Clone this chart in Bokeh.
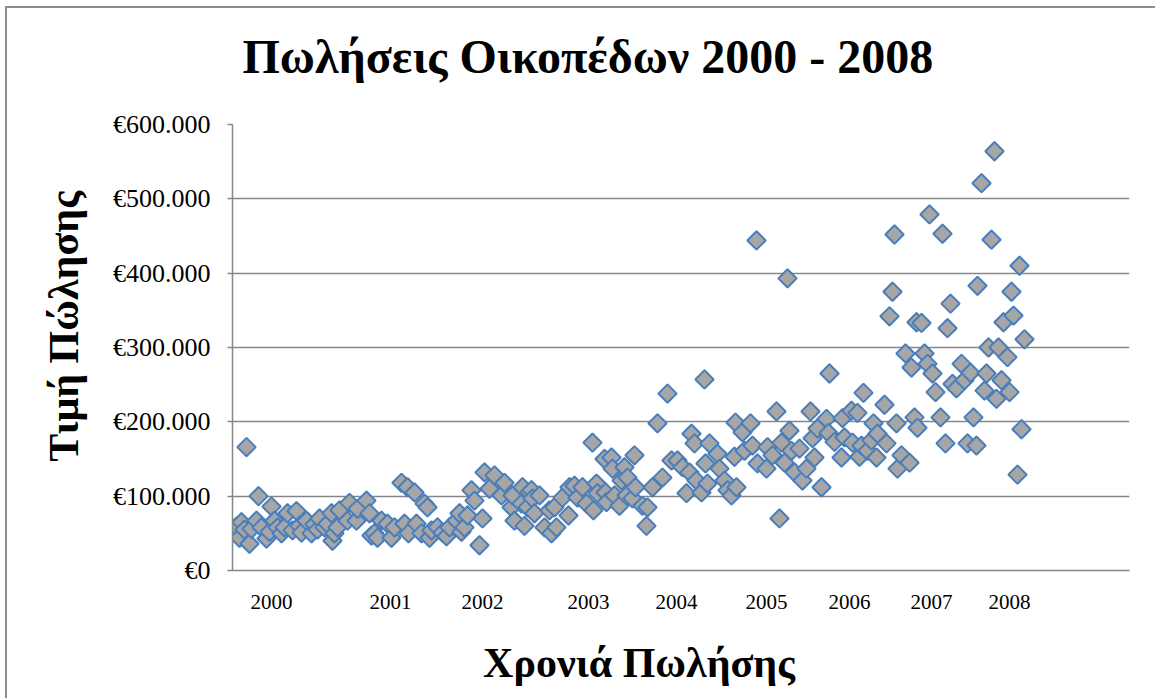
import math
from bokeh.plotting import figure
from bokeh.models import FixedTicker, Title, ColumnDataSource
from bokeh.embed import file_html
from bokeh.resources import INLINE

# position of each sale along the (category) time axis, and its price in thousand euros
sale_pos = [1.5, 2, 3.5, 4.5, 6, 7, 8.5, 9.5, 12, 13, 14.5, 17, 18.5, 19.5, 21, 22.5, 24.5, 26, 27.5, 30,
            32, 33.5, 34.5, 37, 39.5, 41, 42.5, 43.5, 46, 47.5, 49.5, 50, 51, 52.5, 53.5, 57.5, 58.5, 62, 62.5, 67,
            68.5, 69.5, 71, 72.5, 74.5, 77.5, 79.5, 81, 84.5, 86, 87.5, 88, 91, 92, 94.5, 96, 97.5, 98.5, 99.5, 102.5,
            105, 107, 108.5, 112, 113.5, 114.5, 116, 117.5, 119.5, 121, 123.5, 125, 126, 128.5, 131, 134.5, 136, 139.5, 140, 141,
            144.5, 145, 146, 147.5, 148.5, 149.5, 150, 151, 153.5, 156, 158.5, 159.5, 161, 162, 165, 168, 168.5, 171, 172.5, 175,
            177, 180, 180.5, 182, 182.5, 186, 186.5, 187, 189.5, 190, 191, 193.5, 194.5, 196, 197, 197.5, 200, 201, 201.5, 205,
            207, 207.5, 210, 212.5, 215, 217.5, 219.5, 222.5, 225, 227, 228.5, 229.5, 231, 232, 234.5, 236, 236.5, 237.5, 238.5, 242.5,
            243.5, 246, 247.5, 249.5, 251, 251.5, 252, 255, 256, 259, 260, 262, 262.5, 267, 267.5, 270, 272, 273.5, 274.5, 276,
            277.5, 278.5, 279.5, 281, 283.5, 285, 287, 289, 290, 291, 292.5, 294.5, 297, 298, 298.5, 301, 304.5, 305, 306, 309.5,
            310, 312.5, 313.5, 314.5, 315.5, 317.5, 319.5, 320.5, 322, 322.5, 326, 327, 328.5, 330, 331, 332, 332.5, 334.5, 336.5, 338.5,
            339.5, 341, 342, 342.5, 344.5, 346, 347.5, 348.5, 350, 351.5, 354, 355, 356.5, 357.5, 359, 360, 362, 364.5, 366, 367.5,
            369, 370.5, 372, 372.5, 374.5, 376, 377, 378, 379.5, 381, 382, 383, 384.5, 385.5, 387.5, 388.5, 389.5, 390.5, 392.5, 393.5,
            394.5, 396]
price_thousand_eur = [51, 59, 44, 65, 55, 166, 36, 56, 67, 100, 58, 43, 52, 86, 67, 58, 50, 58, 77, 54,
                      80, 60, 51, 67, 50, 62, 55, 70, 58, 63, 77, 40, 50, 58, 81, 67, 91, 67, 83, 94,
                      77, 47, 50, 44, 67, 63, 44, 58, 118, 63, 112, 50, 105, 63, 50, 90, 85, 44, 54, 58,
                      51, 46, 58, 67, 77, 52, 58, 74, 108, 94, 34, 70, 132, 110, 128, 101, 118, 85, 101, 67,
                      90, 112, 60, 85, 105, 108, 97, 77, 101, 58, 81, 50, 85, 58, 98, 74, 112, 114, 98, 112,
                      90, 172, 81, 117, 104, 150, 105, 92, 152, 137, 101, 87, 121, 139, 101, 125, 97, 155, 112, 87,
                      60, 85, 112, 198, 125, 238, 148, 148, 139, 104, 132, 184, 171, 121, 105, 257, 144, 117, 171, 157,
                      137, 121, 108, 101, 153, 199, 112, 186, 161, 198, 168, 444, 144, 137, 166, 155, 214, 70, 172, 145,
                      393, 188, 161, 132, 164, 121, 137, 214, 178, 152, 191, 112, 204, 185, 265, 173, 152, 205, 179, 215,
                      172, 212, 153, 168, 239, 161, 175, 198, 152, 184, 223, 171, 342, 375, 452, 198, 137, 155, 292, 145,
                      273, 206, 334, 192, 333, 292, 278, 479, 265, 240, 206, 453, 171, 326, 359, 251, 245, 278, 256, 171,
                      266, 206, 168, 383, 521, 242, 265, 300, 445, 564, 231, 300, 256, 334, 287, 240, 375, 343, 129, 410,
                      190, 311]
price_eur = [v * 1000 for v in price_thousand_eur]

year_tick_pos = [19.5, 79, 125, 178, 222, 267, 308.5, 349.5, 388.5]
year_labels = ["2000", "2001", "2002", "2003", "2004", "2005", "2006", "2007", "2008"]
price_ticks = [0, 100000, 200000, 300000, 400000, 500000, 600000]
price_tick_labels = ["€0", "€100.000", "€200.000", "€300.000", "€400.000", "€500.000", "€600.000"]

FONT = "Liberation Serif"
GRID = "#868686"
NB = "\u00a0"

src = ColumnDataSource(data=dict(x=sale_pos, y=price_eur))

p = figure(width=1150, height=692, output_backend="svg", toolbar_location=None, title=None,
           x_range=(0, 448.5), y_range=(0, 600000),
           min_border_left=225, min_border_right=28, min_border_top=116, min_border_bottom=130,
           background_fill_color="white", border_fill_color="white",
           styles={"border-top": "2px solid #8c8c8c", "border-left": "2px solid #8c8c8c",
                   "margin-left": "5px", "margin-top": "6px"})
p.outline_line_color = None

p.scatter("x", "y", source=src, marker="square", size=13, angle=math.pi / 4,
          fill_color="#a6a6a6", line_color="#4a7ebb", line_width=2)

# axes
p.xaxis.ticker = FixedTicker(ticks=year_tick_pos)
p.xaxis.major_label_overrides = {t: l for t, l in zip(year_tick_pos, year_labels)}
p.yaxis.ticker = FixedTicker(ticks=price_ticks)
p.yaxis.major_label_overrides = {t: l for t, l in zip(price_ticks, price_tick_labels)}

for ax in (p.xaxis, p.yaxis):
    ax.axis_line_color = GRID
    ax.axis_line_width = 1.5
    ax.major_tick_line_color = GRID
    ax.major_tick_line_width = 1.5
    ax.minor_tick_line_color = None
    ax.major_tick_in = 0
    ax.major_label_text_font = FONT
    ax.major_label_text_color = "black"
    ax.axis_label_text_font = FONT
    ax.axis_label_text_font_style = "bold"
    ax.axis_label_text_color = "black"
    ax.axis_label_text_font_size = "42px"

p.xaxis.major_tick_out = 0
p.xaxis.major_label_text_font_size = "21px"
p.xaxis.major_label_standoff = 24
p.xaxis.axis_label = "Χρονιά Πωλήσης" + NB * 8
p.xaxis.axis_label_standoff = 28

p.yaxis.major_tick_out = 5
p.yaxis.major_label_text_font_size = "26px"
p.yaxis.major_label_standoff = 17
p.yaxis.axis_label = NB * 4 + "Τιμή Πώλησης"
p.yaxis.axis_label_standoff = 23

p.xgrid.visible = False
p.ygrid.ticker = FixedTicker(ticks=price_ticks)
p.ygrid.grid_line_color = GRID
p.ygrid.grid_line_width = 1.5

# title (spacer nearest to the frame, then main title)
p.add_layout(Title(text=" ", text_font_size="22px"), "above")
p.add_layout(Title(text="Πωλήσεις Οικοπέδων 2000 - 2008", align="left", offset=10,
                   text_font=FONT, text_font_style="bold", text_font_size="48px",
                   text_color="black"), "above")

open("out.html", "w").write(file_html(p, INLINE))
